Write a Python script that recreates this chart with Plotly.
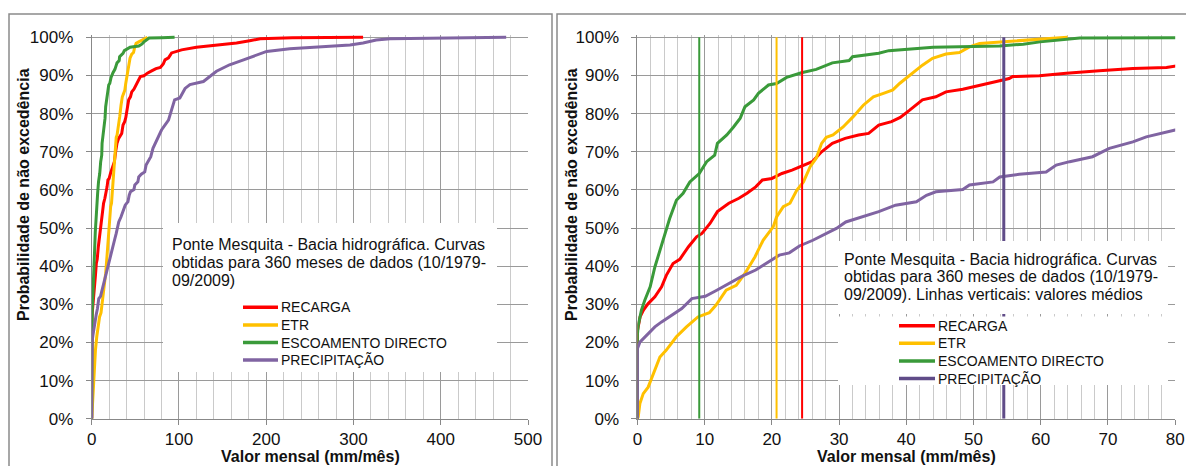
import plotly.graph_objects as go

W, H = 1186, 466

# ---- data: non-exceedance curves (value in mm/month, probability in %) ----
series_names = ["RECARGA", "ETR", "ESCOAMENTO DIRECTO", "PRECIPITAÇÃO"]
curve_colors = ["#FF0000", "#FFC000", "#3A9A3A", "#8064A2"]
mean_colors = ["#FF0000", "#FFC000", "#3A9A3A", "#604C88"]

recarga_v = [0, 0, 0.4, 0.9, 1.6, 2.6, 3.6, 4.3, 5.3, 6.3, 7.6, 8.8, 9.6, 10.8, 11.9,
             13.6, 15.1, 16.3, 17.6, 18.6, 20.0, 21.5, 23.0, 24.5, 26.0, 27.4, 29.0,
             30.9, 32.9, 34.4, 35.9, 37.8, 39.1, 40.5, 42.4, 44.4, 45.9, 48.4, 50.9,
             53.4, 55.3, 55.8, 59.8, 63.8, 68.7, 73.7, 78.7, 82, 84, 88, 91.6, 97.4,
             103, 120, 143, 166, 181, 193, 230, 311]
recarga_p = [0, 23.0, 26.7, 28.5, 30.2, 32.0, 34.6, 37.6, 40.7, 41.8, 45.1, 47.7, 48.6,
             51.2, 54.3, 56.5, 57.8, 59.1, 60.8, 62.6, 63.0, 64.3, 65.2, 66.2, 67.4,
             70.0, 72.2, 73.5, 74.4, 74.8, 77.0, 77.9, 79.0, 80.9, 83.6, 84.4, 85.7,
             86.4, 87.5, 88.4, 89.2, 89.7, 89.9, 90.6, 91.2, 91.8, 92.1, 93.0, 94.1,
             94.6, 95.9, 96.3, 96.7, 97.4, 97.9, 98.5, 99.1, 99.6, 99.9, 100]

etr_v = [0, 0.12, 0.37, 0.87, 1.6, 2.35, 3.35, 4.3, 5.8, 7.3, 9.0, 10.7, 11.7, 13.2,
         14.7, 16.0, 17.5, 18.7, 20.2, 20.7, 21.7, 22.7, 23.7, 24.7, 25.7, 26.6, 27.4,
         28.1, 29.1, 30.6, 32.1, 33.6, 35.1, 36.6, 38.0, 39.0, 40.5, 42.4, 43.9, 45.9,
         47.9, 49.4, 50.9, 53.9, 58.9, 62.9, 64]
etr_p = [0, 0.5, 4.0, 6.6, 8.3, 11.9, 16.2, 18.0, 21.5, 24.1, 26.7, 27.8, 29.8, 33.7,
         35.0, 38.1, 42.5, 46.8, 50.3, 52.9, 55.6, 56.5, 59.9, 62.1, 66.1, 68.3, 72.2,
         73.8, 74.4, 76.5, 79.2, 82.2, 84.4, 85.3, 86.2, 87.9, 90.1, 92.7, 94.5, 95.6,
         96.0, 97.5, 98.4, 98.8, 99.5, 99.9, 100]

escoamento_v = [0, 0, 0.12, 0.6, 1.1, 1.9, 2.6, 3.35, 4.1, 4.8, 5.8, 6.8, 7.8, 9.2,
                10.3, 11.5, 11.9, 13.3, 14.3, 15.3, 16.0, 17.3, 18.0, 19.5, 20.7, 22.2,
                24.4, 26.6, 29.0, 31.5, 32.0, 35.9, 37.4, 40.4, 44.0, 53.9, 57.4, 59.9,
                63.8, 65.8, 80, 95]
escoamento_p = [0, 22.0, 24.5, 28.5, 31.1, 34.6, 39.8, 44.2, 48.9, 52.5, 57.3, 59.1,
                62.1, 64.3, 67.4, 69.1, 72.2, 74.4, 76.5, 78.8, 81.8, 83.6, 85.3, 87.5,
                87.9, 89.5, 90.7, 91.6, 93.3, 93.9, 94.9, 95.8, 96.5, 96.9, 97.4, 97.7,
                98.2, 98.8, 99.5, 99.8, 99.9, 100]

precipitacao_v = [0, 0, 0.37, 1.4, 2.6, 3.6, 5.1, 6.6, 8.1, 10.1, 11.6, 13.6, 15.6, 17.6,
                  19.6, 21.1, 22.6, 24.1, 26.1, 28.1, 29.6, 31.0, 33.5, 35.9, 38.4, 40.4,
                  41.5, 43.0, 44.4, 48.4, 49.4, 52.9, 53.9, 56.8, 60.8, 62.3, 64.3, 67.7,
                  70.2, 73.7, 75.7, 80, 88, 95, 101, 107, 112.6, 118, 128, 143, 158, 174,
                  189, 200.5, 227, 258, 296, 311, 326, 342, 475]
precipitacao_p = [0, 18.4, 20.1, 21.9, 24.1, 25.4, 27.2, 28.9, 31.5, 32.1, 33.5, 35.5,
                  37.4, 39.0, 41.1, 42.9, 43.5, 45.3, 46.8, 48.6, 49.9, 51.6, 52.9, 54.3,
                  56.0, 56.6, 56.9, 58.6, 59.5, 60.1, 61.3, 62.1, 63.4, 64.1, 64.7, 66.5,
                  67.4, 68.7, 70.9, 72.6, 73.9, 75.7, 78.3, 83.6, 84.1, 86.6, 87.6, 87.9,
                  88.4, 91.1, 92.8, 94.1, 95.4, 96.3, 97.0, 97.4, 98.0, 98.5, 99.3, 99.6,
                  100]

# monthly means (vertical lines on the detail chart)
medias = [24.5, 20.7, 9.2, 54.5]

curves_v = [recarga_v, etr_v, escoamento_v, precipitacao_v]
curves_p = [recarga_p, etr_p, escoamento_p, precipitacao_p]

y_ticks = list(range(0, 101, 10))
y_ticklabels = [f"{t}%" for t in y_ticks]
nota_esq = ["Ponte Mesquita - Bacia hidrográfica. Curvas",
            "obtidas para 360 meses de dados (10/1979-",
            "09/2009)"]
nota_dir = ["Ponte Mesquita - Bacia hidrográfica. Curvas",
            "obtidas para 360 meses de dados (10/1979-",
            "09/2009). Linhas verticais: valores médios"]
x_title = "Valor mensal (mm/mês)"
y_title = "Probabilidade de não excedência"

FONT = "Liberation Sans, Arial, sans-serif"


def px(x):
    return x / W


def py(y):
    return 1 - y / H


fig = go.Figure()

# full-range chart (left)
for name, v, p, c in zip(series_names, curves_v, curves_p, curve_colors):
    fig.add_trace(go.Scatter(x=v, y=p, mode="lines", name=name, showlegend=False,
                             line=dict(color=c, width=3), xaxis="x", yaxis="y"))

# detail chart (right)
for name, v, p, c in zip(series_names, curves_v, curves_p, curve_colors):
    fig.add_trace(go.Scatter(x=v, y=p, mode="lines", name=name, showlegend=False,
                             line=dict(color=c, width=3), xaxis="x2", yaxis="y2"))
for name, m, c in zip(series_names, medias, mean_colors):
    fig.add_trace(go.Scatter(x=[m, m], y=[0, 100], mode="lines", name=name + " (média)",
                             showlegend=False,
                             line=dict(color=c, width=3 if c == mean_colors[3] else 2),
                             xaxis="x2", yaxis="y2"))

y_bottom, y_per = 418.8, 3.815
y_top_range = 100.7
y_dom = [py(y_bottom), py(y_bottom - y_top_range * y_per)]

grid_major = "#9A9A9A"
grid_minor = "#CACACA"
axis_line = "#888888"
tick_font = dict(family=FONT, size=17, color="#111111")

common_x = dict(showline=True, linecolor=axis_line, linewidth=1, ticks="outside",
                ticklen=5, tickcolor=axis_line, showgrid=True, gridcolor=grid_major,
                gridwidth=1, zeroline=False, tickfont=tick_font, ticklabelstandoff=0,
                automargin=False)
common_y = dict(range=[0, y_top_range], tickmode="array", tickvals=y_ticks,
                ticktext=y_ticklabels,
                showline=True, linecolor=axis_line, linewidth=1, ticks="outside",
                ticklen=5, tickcolor=axis_line, showgrid=True, gridcolor=grid_major,
                gridwidth=1, zeroline=False, tickfont=tick_font, ticklabelstandoff=9,
                automargin=False)

fig.update_layout(
    width=W, height=H, margin=dict(l=0, r=0, t=0, b=0, autoexpand=False),
    paper_bgcolor="white", plot_bgcolor="white",
    font=dict(family=FONT, color="#111111"),
    xaxis=dict(domain=[px(91.7), px(528)], range=[0, 500], dtick=100,
               minor=dict(dtick=20, showgrid=True, gridcolor=grid_minor, gridwidth=1),
               anchor="y", **common_x),
    yaxis=dict(domain=y_dom, anchor="x", **common_y),
    xaxis2=dict(domain=[px(637.4), px(1175.2)], range=[0, 80], dtick=10,
                minor=dict(dtick=2, showgrid=True, gridcolor=grid_minor, gridwidth=1),
                anchor="y2", **common_x),
    yaxis2=dict(domain=y_dom, anchor="x2", **common_y),
)

shapes = []
# chart frames
for x0, x1 in [(9, 552), (557, 1192)]:
    shapes.append(dict(type="rect", xref="paper", yref="paper", x0=px(x0), x1=px(x1),
                       y0=py(H + 10), y1=py(14), line=dict(color="#8A8A8A", width=1.5),
                       fillcolor="rgba(0,0,0,0)", layer="below"))

# white note / legend boxes
boxes = [(163, 223, 497, 372), (838, 241, 1168, 314), (838, 316.5, 1168, 385)]
for x0, y0, x1, y1 in boxes:
    shapes.append(dict(type="rect", xref="paper", yref="paper", x0=px(x0), x1=px(x1),
                       y0=py(y1), y1=py(y0), line=dict(width=0), fillcolor="white",
                       layer="above"))

annotations = []


def add_text(txt, x, y, size, xanchor="left", bold=False, angle=0):
    annotations.append(dict(text=f"<b>{txt}</b>" if bold else txt, xref="paper",
                            yref="paper", x=px(x), y=py(y), xanchor=xanchor,
                            yanchor="middle", showarrow=False, textangle=angle,
                            borderpad=0,
                            font=dict(family=FONT, size=size, color="#111111")))


# notes
for i, line in enumerate(nota_esq):
    add_text(line, 171, 245 + 17.6 * i, 16)
for i, line in enumerate(nota_dir):
    add_text(line, 843, 259.3 + 17.4 * i, 16)

# legends
legend_specs = [(243, 278, 280, 307.3, curve_colors),
                (899, 935, 937, 325.7, mean_colors)]
for lx0, lx1, tx, ly0, cols in legend_specs:
    for i, (name, c) in enumerate(zip(series_names, cols)):
        yy = ly0 + 17.6 * i
        shapes.append(dict(type="line", xref="paper", yref="paper", x0=px(lx0),
                           x1=px(lx1), y0=py(yy), y1=py(yy),
                           line=dict(color=c, width=3.5), layer="above"))
        add_text(name, tx, yy, 14)

# axis titles
add_text(y_title, 23, 195, 16, xanchor="center", bold=True, angle=-90)
add_text(y_title, 571, 195, 16, xanchor="center", bold=True, angle=-90)
add_text(x_title, 310, 456.5, 16, xanchor="center", bold=True)
add_text(x_title, 906, 456.5, 16, xanchor="center", bold=True)

fig.update_layout(shapes=shapes, annotations=annotations)
fig.write_html("out.html")
